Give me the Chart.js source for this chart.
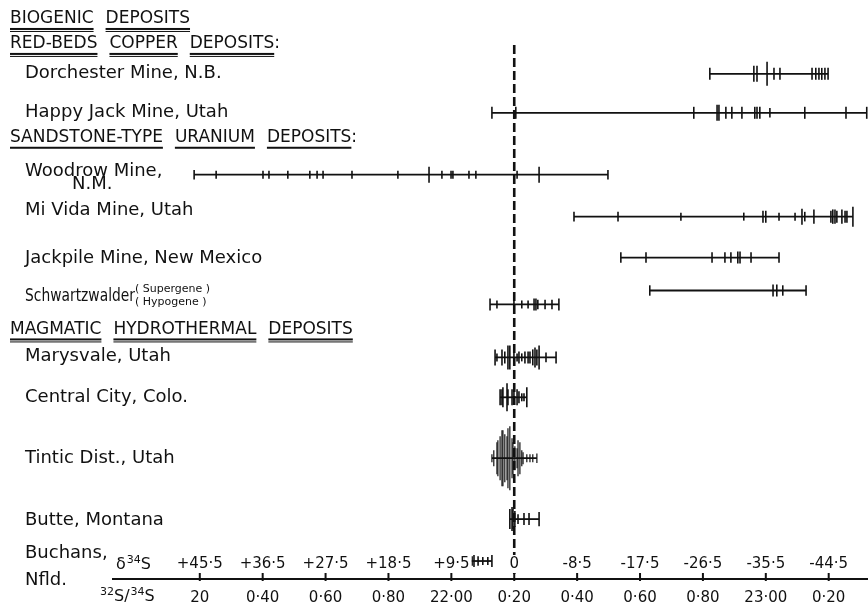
<!DOCTYPE html>
<html lang="en">
<head>
<meta charset="UTF-8">
<title>Sulphur isotope ranges of ore deposits</title>
<script src="https://cdn.jsdelivr.net/npm/chart.js@4.4.1/dist/chart.umd.min.js"></script>
<style>
  html, body { margin: 0; padding: 0; background: #fff; }
  #wrap { width: 868px; height: 607px; position: relative; }
</style>
</head>
<body>
<div id="wrap"><canvas id="isoChart"></canvas></div>
<script>
// x axis: 32S/34S ratio, with the matching delta-34S values printed above the line
const ratioTicks = [21.2, 21.4, 21.6, 21.8, 22.0, 22.2, 22.4, 22.6, 22.8, 23.0, 23.2];
const ratioLabels = ['20', '0·40', '0·60', '0·80', '22·00', '0·20', '0·40', '0·60', '0·80', '23·00', '0·20'];
const deltaLabels = ['+45·5', '+36·5', '+27·5', '+18·5', '+9·5', '0', '-8·5', '-17·5', '-26·5', '-35·5', '-44·5'];
const refRatio = 22.2;

// group headings and deposit names (y in row units, top = 0)
const headings = ['BIOGENIC DEPOSITS', 'RED-BEDS COPPER DEPOSITS:', 'SANDSTONE-TYPE URANIUM DEPOSITS:', 'MAGMATIC HYDROTHERMAL DEPOSITS'];
const headingY = [0.95, 2.2, 6.9, 16.5];
const depositNames = ['Dorchester Mine, N.B.', 'Happy Jack Mine, Utah', 'Woodrow Mine,', 'Mi Vida Mine, Utah',
  'Jackpile Mine, New Mexico', 'Schwartzwalder', 'Marysvale, Utah', 'Central City, Colo.',
  'Tintic Dist., Utah', 'Butte, Montana', 'Buchans,'];
const depositNameY = [3.65, 5.65, 8.6, 10.55, 12.95, 14.85, 17.85, 19.9, 22.95, 26.05, 27.7];

// measured 32S/34S values per deposit; n = how many samples share the value (tick length)
const dorchester = [22.822, 22.962, 22.972, 23.004, 23.026, 23.045, 23.147, 23.159, 23.169, 23.178, 23.188, 23.198];
const dorchesterN = [1.5, 2, 2, 3, 1.5, 1.5, 1.5, 1.5, 1.5, 1.5, 1.5, 1.5];
const happyJack = [22.129, 22.205, 22.771, 22.845, 22.851, 22.873, 22.892, 22.924, 22.965, 22.972, 22.981, 23.013, 23.124, 23.255, 23.321];
const happyJackN = [1.5, 1.5, 1.5, 2, 2, 1.5, 1.5, 1.5, 1.5, 1.5, 1.5, 1.2, 1.5, 1.5, 1.5];
const woodrow = [21.182, 21.252, 21.401, 21.420, 21.480, 21.550, 21.573, 21.592, 21.684, 21.830, 21.929, 21.970, 21.999, 22.005, 22.056, 22.078, 22.209, 22.279, 22.498];
const woodrowN = [1.2, 1, 1, 1, 1, 1, 1, 1, 1, 1, 2, 1, 1, 1, 1, 1, 1, 2, 1.2];
const miVida = [22.390, 22.530, 22.730, 22.930, 22.991, 23.000, 23.042, 23.093, 23.115, 23.124, 23.153, 23.207, 23.213, 23.220, 23.226, 23.242, 23.252, 23.258, 23.277];
const miVidaN = [1.2, 1.2, 1, 1, 1.5, 1.5, 1, 1, 2, 1.2, 1.8, 1.5, 1.8, 1.8, 1.5, 1.8, 1.5, 1.5, 2.5];
const jackpile = [22.539, 22.619, 22.829, 22.870, 22.889, 22.911, 22.918, 22.953, 23.042];
const jackpileN = [1.3, 1.3, 1.3, 1.3, 1.3, 1.5, 1.5, 1.3, 1.3];
const schwartzSuper = [22.631, 23.023, 23.035, 23.054, 23.128];
const schwartzSuperN = [1.3, 1.5, 1.5, 1.3, 1.3];
const schwartzHypo = [22.123, 22.145, 22.199, 22.224, 22.244, 22.263, 22.269, 22.275, 22.298, 22.320, 22.342];
const schwartzHypoN = [1.5, 1, 1, 1, 1, 1.5, 1.5, 1.2, 1.2, 1.2, 1.5];
const marysvale = [22.139, 22.145, 22.161, 22.170, 22.180, 22.186, 22.199, 22.209, 22.215, 22.224, 22.234, 22.244, 22.250, 22.259, 22.266, 22.272, 22.279, 22.301, 22.333];
const marysvaleN = [2, 1, 2, 1.5, 3, 3, 1.5, 1, 1.5, 1, 1.5, 1.5, 1.5, 2, 2.5, 2, 3, 1.2, 1.5];
const centralCity = [22.155, 22.161, 22.164, 22.177, 22.180, 22.193, 22.199, 22.209, 22.215, 22.224, 22.231, 22.240];
const centralCityN = [2, 2, 2.5, 3.5, 2, 2, 1.5, 2, 1.5, 1, 1, 2.5];
const tintic = [22.129, 22.135, 22.145, 22.148, 22.155, 22.161, 22.164, 22.170, 22.177, 22.180, 22.186, 22.193, 22.196, 22.202, 22.209, 22.212, 22.218, 22.224, 22.228, 22.240, 22.250, 22.259, 22.272];
const tinticN = [1, 2, 4, 4.5, 5.5, 7, 7, 6, 5.5, 7.5, 8, 5, 4, 3, 2.5, 4.5, 4, 2, 1.5, 1, 1, 1, 1.2];
const butte = [22.186, 22.193, 22.196, 22.202, 22.212, 22.231, 22.247, 22.279];
const butteN = [2.5, 3, 2.5, 2, 1.2, 1.5, 1.5, 1.8];
const buchans = [22.053, 22.066, 22.072, 22.085, 22.100, 22.116, 22.129];
const buchansN = [1.5, 1.2, 1.5, 1.2, 1, 1, 1.5];

const rowValues = [dorchester, happyJack, woodrow, miVida, jackpile, schwartzSuper, schwartzHypo, marysvale, centralCity, tintic, butte, buchans];
const rowCounts = [dorchesterN, happyJackN, woodrowN, miVidaN, jackpileN, schwartzSuperN, schwartzHypoN, marysvaleN, centralCityN, tinticN, butteN, buchansN];
const rowY = [3.7, 5.65, 8.75, 10.85, 12.9, 14.55, 15.25, 17.9, 19.9, 22.95, 26.0, 28.1];

const ink = '#111';
const FONT = '"DejaVu Sans", sans-serif';

const datasets = rowValues.map((vals, i) => ({
  data: vals.map(v => ({ x: v, y: rowY[i] })),
  showLine: true,
  borderColor: ink,
  borderWidth: 1.8,
  pointStyle: 'line',
  rotation: 90,
  pointRadius: rowCounts[i].map(n => n * 4),
  pointBorderWidth: vals === tintic ? 1.2 : 1.6,
  pointBorderColor: ink,
  clip: false
}));

// zero per mil reference (dashed)
datasets.push({
  data: [{ x: refRatio, y: 2.25 }, { x: refRatio, y: 29 }],
  showLine: true,
  borderColor: ink,
  borderWidth: 2.6,
  borderDash: [9, 4],
  pointRadius: 0,
  clip: false
});

function drawSup(ctx, parts, x, y) {
  // parts: [text, isSuperscript]
  parts.forEach(([t, sup]) => {
    ctx.font = sup ? '11px ' + FONT : '16px ' + FONT;
    ctx.fillText(t, x, sup ? y - 5 : y);
    x += ctx.measureText(t).width + (sup ? 0 : 1);
  });
}

const textLayer = {
  id: 'textLayer',
  afterDatasetsDraw(chart) {
    const { ctx, scales: { x, y }, chartArea } = chart;
    ctx.save();
    ctx.fillStyle = ink;
    ctx.textBaseline = 'middle';
    ctx.textAlign = 'left';

    // headings, every word underlined
    ctx.font = '17px ' + FONT;
    headings.forEach((h, i) => {
      const py = y.getPixelForValue(headingY[i]);
      let px = 10;
      h.split(' ').forEach(word => {
        ctx.fillText(word, px, py);
        const w = ctx.measureText(word.replace(':', '')).width;
        ctx.fillRect(px, py + 9, w, 2);
        if (i !== 2) ctx.fillRect(px, py + 12, w, 1);
        px += ctx.measureText(word).width + 12;
      });
    });

    // deposit names
    ctx.font = '18px ' + FONT;
    depositNames.forEach((d, i) => {
      const py = y.getPixelForValue(depositNameY[i]);
      if (d === 'Schwartzwalder') ctx.fillText(d, 25, py, 110);
      else ctx.fillText(d, 25, py);
    });
    ctx.fillText('N.M.', 72, y.getPixelForValue(9.25));
    ctx.fillText('Nfld.', 25, y.getPixelForValue(29.05));
    ctx.font = '11px ' + FONT;
    ctx.fillText('( Supergene )', 135, y.getPixelForValue(14.5));
    ctx.fillText('( Hypogene )', 135, y.getPixelForValue(15.15));

    // axis tick marks crossing the line
    const base = chartArea.bottom;
    ratioTicks.forEach(v => {
      const px = x.getPixelForValue(v);
      ctx.fillRect(px - 1, base - 6, 2, 8);
    });

    // delta-34S labels above the axis line
    ctx.font = '15px ' + FONT;
    ctx.textAlign = 'center';
    const dy = base - 15;
    ratioTicks.forEach((v, i) => {
      const px = x.getPixelForValue(v);
      const w = ctx.measureText(deltaLabels[i]).width;
      ctx.fillStyle = '#fff';
      ctx.fillRect(px - w / 2 - 2, dy - 9, w + 4, 18);
      ctx.fillStyle = ink;
      ctx.fillText(deltaLabels[i], px, dy);
    });

    ctx.textAlign = 'left';
    drawSup(ctx, [['δ', false], ['34', true], ['S', false]], 116, dy + 1);
    drawSup(ctx, [['32', true], ['S/', false], ['34', true], ['S', false]], 100, base + 18);
    ctx.restore();
  }
};

new Chart(document.getElementById('isoChart'), {
  type: 'scatter',
  data: { datasets },
  options: {
    responsive: true,
    maintainAspectRatio: false,
    animation: false,
    events: [],
    layout: { autoPadding: false, padding: { left: 113, right: 0, top: 0, bottom: 0 } },
    plugins: { legend: { display: false }, tooltip: { enabled: false } },
    scales: {
      x: {
        type: 'linear',
        position: 'bottom',
        min: 20.924,
        max: 23.325,
        afterBuildTicks: s => { s.ticks = ratioTicks.map(v => ({ value: v })); },
        afterFit: s => { s.height = 28; s.paddingLeft = 0; s.paddingRight = 0; },
        grid: { display: false, drawTicks: false },
        border: { display: true, color: ink, width: 2 },
        ticks: {
          padding: 10,
          color: ink,
          font: { family: FONT, size: 15 },
          maxRotation: 0,
          autoSkip: false,
          callback: (v, i) => ratioLabels[i]
        }
      },
      y: {
        type: 'linear',
        display: false,
        reverse: true,
        min: 0,
        max: 29
      }
    }
  },
  plugins: [textLayer]
});
</script>
</body>
</html>
